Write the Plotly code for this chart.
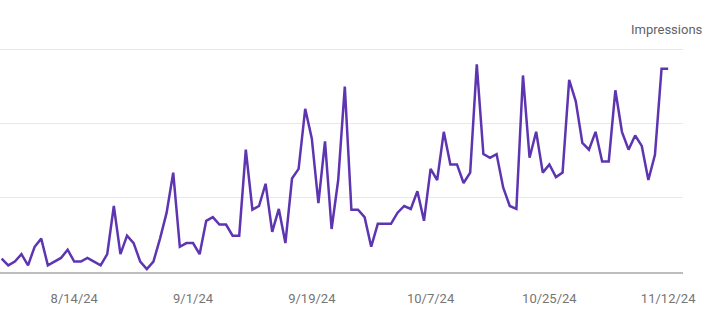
import pandas as pd
import plotly.graph_objects as go

start_date = "2024-08-03"
impressions = [18, 9, 14, 24, 9, 34, 45, 9, 14, 19, 30, 14, 14, 19, 14, 9, 24, 89,
               24, 49, 39, 14, 4, 14, 45, 80, 134, 34, 39, 39, 24, 69, 74, 64, 64, 49,
               49, 165, 84, 89, 119, 54, 85, 39, 126, 139, 220, 180, 93, 176, 58, 124,
               250, 84, 84, 74, 34, 65, 65, 65, 80, 89, 85, 109, 69, 139, 124, 189,
               145, 145, 120, 134, 280, 159, 154, 159, 114, 89, 85, 265, 154, 189, 134,
               145, 128, 134, 259, 230, 174, 165, 189, 149, 149, 245, 189, 165, 184,
               170, 124, 158, 274, 274]
dates = pd.date_range(start_date, periods=len(impressions), freq="D")
tick_dates = ["2024-08-14", "2024-09-01", "2024-09-19", "2024-10-07", "2024-10-25", "2024-11-12"]
tick_labels = ["8/14/24", "9/1/24", "9/19/24", "10/7/24", "10/25/24", "11/12/24"]

fig = go.Figure()
fig.add_trace(go.Scatter(
    x=dates, y=impressions, mode="lines",
    line=dict(color="#5e35b1", width=2.5),
    hoverinfo="skip", showlegend=False,
))

x0 = dates[0] - pd.Timedelta(hours=6)
x1 = dates[-1] + pd.Timedelta(hours=54)

fig.update_layout(
    width=720, height=327,
    margin=dict(l=0, r=37, t=48, b=55),
    paper_bgcolor="white", plot_bgcolor="white",
    font=dict(family="Roboto", color="#757575", size=13),
    xaxis=dict(
        range=[x0, x1],
        tickvals=tick_dates, ticktext=tick_labels,
        showgrid=False, zeroline=False,
        showline=True, linecolor="#bdbdbd", linewidth=2,
        ticks="", ticklabelstandoff=13,
        tickfont=dict(size=13, color="#757575"),
    ),
    yaxis=dict(
        range=[0, 302], tickvals=[100, 200, 300],
        showgrid=True, gridcolor="#e8e8e8", gridwidth=1,
        zeroline=False, showticklabels=False, ticks="",
    ),
    annotations=[dict(
        text="Impressions", xref="paper", yref="paper",
        x=1.0, y=1.0, xanchor="right", yanchor="bottom",
        xshift=22, yshift=9, showarrow=False,
        font=dict(size=13, color="#5f6368"),
    )],
)

fig.write_html("out.html")
